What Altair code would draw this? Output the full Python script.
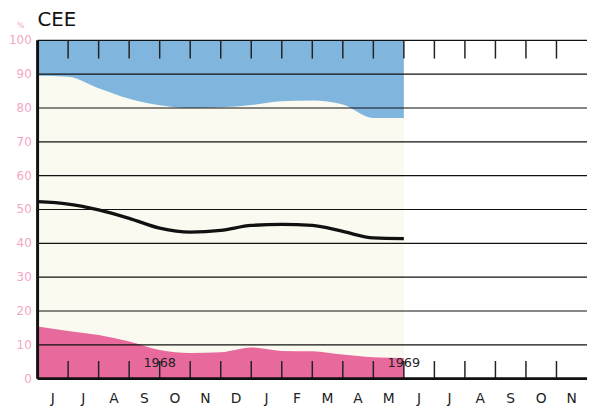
import altair as alt
import pandas as pd

# ---- data ----
months = ["J", "J", "A", "S", "O", "N", "D", "J", "F", "M", "A", "M",
          "J", "J", "A", "S", "O", "N"]
month_idx = list(range(13))  # month boundaries, June 1968 .. end of May 1969
black_line = [52.3, 51.6, 49.9, 47.4, 44.5, 43.3, 43.8, 45.3, 45.6, 45.3, 43.5, 41.6, 41.4]
blue_lower = [89.5, 89.2, 85.8, 82.7, 80.8, 80.0, 80.2, 80.9, 82.0, 82.2, 81.0, 77.0, 77.0]
pink_upper = [15.4, 14.1, 12.9, 11.0, 8.5, 7.6, 7.8, 9.2, 8.2, 8.1, 7.1, 6.3, 6.1]
years = ["1968", "1969"]
year_pos = [4, 12]
year_y = [4.5, 4.5]
tick_pos = list(range(1, 18))
y_values = list(range(0, 101, 10))

BLUE = "#80b6de"
PINK = "#e8699c"
CREAM = "#fafaf0"
LABEL_PINK = "#f2a6c6"

series = pd.DataFrame({"x": month_idx, "line": black_line,
                       "blue": blue_lower, "pink": pink_upper,
                       "top": [100] * 13, "bottom": [0] * 13})
bg = pd.DataFrame({"x": [0], "x2": [12], "y": [0], "y2": [100]})
ticks = pd.DataFrame({"x": tick_pos, "t0": [100] * 17, "t1": [94.6] * 17,
                      "b0": [0] * 17, "b1": [5.2] * 17})
grid = pd.DataFrame({"y": y_values, "lab": [str(v) for v in y_values]})
mlabels = pd.DataFrame({"x": [i + 0.5 for i in range(18)], "m": months})
yr = pd.DataFrame({"x": year_pos, "y": year_y, "t": years})

xscale = alt.Scale(domain=[0, 18], nice=False, zero=False)
yscale = alt.Scale(domain=[0, 100], nice=False)

background = alt.Chart(bg).mark_rect(color=CREAM).encode(
    x=alt.X("x:Q", scale=xscale, axis=None),
    x2="x2:Q",
    y=alt.Y("y:Q", scale=yscale, axis=None),
    y2="y2:Q",
)

blue_area = alt.Chart(series).mark_area(color=BLUE, interpolate="monotone").encode(
    x=alt.X("x:Q", scale=xscale, axis=None),
    y=alt.Y("blue:Q", scale=yscale, axis=None),
    y2="top:Q",
)

pink_area = alt.Chart(series).mark_area(color=PINK, interpolate="monotone").encode(
    x=alt.X("x:Q", scale=xscale, axis=None),
    y=alt.Y("pink:Q", scale=yscale, axis=None),
    y2="bottom:Q",
)

grid_lines = alt.Chart(grid).mark_rule(color="#111", strokeWidth=1.2).encode(
    y=alt.Y("y:Q", scale=yscale, axis=None),
)

y_labels = alt.Chart(grid).mark_text(
    fontSize=12, font="DejaVu Sans", color=LABEL_PINK, align="right",
    baseline="middle", dx=-6
).encode(
    x=alt.value(0),
    y=alt.Y("y:Q", scale=yscale, axis=None),
    text="lab:N",
)

month_labels = alt.Chart(mlabels).mark_text(
    fontSize=14, font="DejaVu Sans", color="#222", align="center",
    baseline="middle", dy=21
).encode(
    x=alt.X("x:Q", scale=xscale, axis=None),
    y=alt.value(343),
    text="m:N",
)

line = alt.Chart(series).mark_line(color="#111", strokeWidth=3.4,
                                   interpolate="monotone").encode(
    x=alt.X("x:Q", scale=xscale, axis=None),
    y=alt.Y("line:Q", scale=yscale, axis=None),
)

top_ticks = alt.Chart(ticks).mark_rule(color="#222", strokeWidth=1.5).encode(
    x=alt.X("x:Q", scale=xscale, axis=None),
    y=alt.Y("t0:Q", scale=yscale, axis=None),
    y2="t1:Q",
)
bottom_ticks = alt.Chart(ticks).mark_rule(color="#222", strokeWidth=1.5).encode(
    x=alt.X("x:Q", scale=xscale, axis=None),
    y=alt.Y("b0:Q", scale=yscale, axis=None),
    y2="b1:Q",
)

left_domain = alt.Chart(bg).mark_rule(color="#111", strokeWidth=3).encode(
    x=alt.X("x:Q", scale=xscale, axis=None),
    y=alt.Y("y:Q", scale=yscale, axis=None),
    y2="y2:Q",
)
bottom_domain = alt.Chart(bg).mark_rule(color="#111", strokeWidth=3).encode(
    y=alt.Y("y:Q", scale=yscale, axis=None),
)

year_text = alt.Chart(yr).mark_text(fontSize=13, font="DejaVu Sans", color="#222",
                                    align="center", baseline="middle").encode(
    x=alt.X("x:Q", scale=xscale, axis=None),
    y=alt.Y("y:Q", scale=yscale, axis=None),
    text="t:N",
)

title_text = alt.Chart(yr.head(1)).mark_text(
    text="CEE", fontSize=20, font="DejaVu Sans", color="#111",
    align="left", baseline="middle"
).encode(x=alt.value(0), y=alt.value(-21))

pct_text = alt.Chart(yr.head(1)).mark_text(
    text="%", fontSize=8, font="DejaVu Sans", color=LABEL_PINK,
    align="center", baseline="middle"
).encode(x=alt.value(-17), y=alt.value(-14))

chart = alt.layer(
    background, blue_area, pink_area, grid_lines, line,
    top_ticks, bottom_ticks, left_domain, bottom_domain,
    year_text, y_labels, month_labels, title_text, pct_text
).properties(
    width=557,
    height=343,
    autosize=alt.AutoSizeParams(type="none"),
    padding={"left": 30, "top": 30, "right": 0, "bottom": 26},
    background="white",
).configure_view(stroke=None)

chart.save("out.html", embed_options={"renderer": "svg", "actions": False})
